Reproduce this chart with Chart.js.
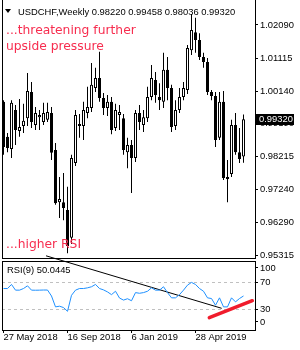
<!DOCTYPE html>
<html>
<head>
<meta charset="utf-8">
<script src="https://cdn.jsdelivr.net/npm/chart.js@4.4.1/dist/chart.umd.min.js"></script>
<style>
    html, body { margin: 0; padding: 0; background: #fff; }
    #wrap { position: relative; width: 300px; height: 350px; overflow: hidden; background: #fff; }
    canvas { position: absolute; left: 0; }
    #priceCanvas { top: 0; }
    #rsiCanvas { top: 240px; }
    .txt { position: absolute; white-space: nowrap; }
    #arrow { position: absolute; left: 5px; top: 9px; width: 0; height: 0;
             border-left: 3.5px solid transparent; border-right: 3.5px solid transparent; border-top: 4px solid #000; }
    #header { left: 18px; top: 6px; font: 9.4px/12px "Liberation Sans", Arial, sans-serif; color: #000; }
    .note { left: 6px; font: 12.3px/16.7px "DejaVu Sans", sans-serif; color: #f72d4f; }
    #note1 { top: 21.7px; }
    #note2 { top: 236.4px; }
    #rsiLabel { left: 7px; top: 264px; font: 9.4px/12px "Liberation Sans", Arial, sans-serif; color: #000; }
</style>
</head>
<body>
<div id="wrap">
    <canvas id="priceCanvas" width="300" height="260"></canvas>
    <canvas id="rsiCanvas" width="300" height="110"></canvas>
    <div id="arrow"></div>
    <div id="header" class="txt"></div>
    <div id="note1" class="txt note">...threatening further<br>upside pressure</div>
    <div id="note2" class="txt note">...higher RSI</div>
    <div id="rsiLabel" class="txt"></div>
</div>
<script>
// Weekly USDCHF candles, 27 May 2018 .. 21 Jul 2019 (one entry per week)
const opens = [0.9983, 0.9880, 0.9844, 0.9959, 0.9897, 0.9912, 0.9935, 1.0012, 0.9915, 0.9938,
    0.9924, 0.9930, 0.9950, 0.9841, 0.9688, 0.9688, 0.9665, 0.9583, 0.9803, 0.9912,
    0.9912, 0.9950, 0.9965, 1.0024, 1.0053, 0.9994, 0.9965, 0.9983, 0.9906, 0.9944,
    0.9935, 0.9835, 0.9856, 0.9818, 0.9950, 0.9915, 0.9935, 0.9997, 1.0047, 0.9997,
    0.9983, 1.0077, 1.0024, 0.9912, 0.9959, 0.9997, 1.0018, 1.0135, 1.0188, 1.0165,
    1.0115, 1.0100, 1.0012, 1.0000, 0.9877, 0.9983, 0.9756, 0.9771, 0.9915, 0.9835,
    0.98220];
const highs = [0.9988, 0.9891, 0.9988, 0.9974, 0.9991, 0.9977, 1.0068, 1.0041, 0.9968, 0.9959,
    0.9980, 0.9980, 0.9968, 0.9862, 0.9762, 0.9774, 0.9733, 0.9827, 0.9959, 0.9947,
    0.9983, 1.0027, 1.0097, 1.0083, 1.0130, 1.0009, 1.0003, 0.9997, 0.9977, 0.9974,
    0.9947, 0.9877, 0.9871, 0.9959, 0.9974, 0.9959, 1.0027, 1.0091, 1.0071, 1.0038,
    1.0127, 1.0115, 1.0033, 0.9988, 1.0024, 1.0041, 1.0150, 1.0241, 1.0230, 1.0185,
    1.0127, 1.0112, 1.0018, 1.0012, 1.0012, 1.0015, 0.9812, 0.9930, 0.9950, 0.9906,
    0.99458];
const lows = [0.9827, 0.9835, 0.9818, 0.9856, 0.9880, 0.9891, 0.9912, 0.9906, 0.9900, 0.9900,
    0.9915, 0.9924, 0.9812, 0.9680, 0.9641, 0.9635, 0.9538, 0.9565, 0.9794, 0.9877,
    0.9871, 0.9935, 0.9953, 1.0012, 0.9983, 0.9944, 0.9941, 0.9888, 0.9897, 0.9900,
    0.9827, 0.9788, 0.9715, 0.9806, 0.9900, 0.9894, 0.9924, 0.9988, 0.9980, 0.9959,
    0.9965, 0.9988, 0.9894, 0.9900, 0.9950, 0.9988, 1.0006, 1.0121, 1.0127, 1.0106,
    1.0083, 1.0003, 0.9988, 0.9850, 0.9871, 0.9753, 0.9688, 0.9762, 0.9827, 0.9803,
    0.98036];
const closes = [0.9850, 0.9847, 0.9980, 0.9900, 0.9909, 0.9927, 1.0015, 0.9924, 0.9950, 0.9944,
    0.9950, 0.9953, 0.9833, 0.9685, 0.9697, 0.9671, 0.9559, 0.9818, 0.9944, 0.9918,
    0.9959, 0.9968, 1.0033, 1.0053, 0.9994, 0.9965, 0.9983, 0.9900, 0.9959, 0.9953,
    0.9841, 0.9856, 0.9818, 0.9950, 0.9924, 0.9938, 0.9997, 1.0053, 1.0003, 0.9988,
    1.0077, 1.0024, 0.9909, 0.9959, 0.9997, 1.0024, 1.0141, 1.0194, 1.0165, 1.0115,
    1.0100, 1.0012, 1.0000, 0.9871, 0.9983, 0.9759, 0.9762, 0.9915, 0.9835, 0.9815,
    0.99320];

// RSI(9)
const rsi = [61, 61, 67, 58.6, 58.6, 61, 65, 58.6, 58.5, 58.6, 58.8, 58.8,
    50, 34, 35, 33, 27.5, 51, 58.6, 61, 61, 62, 63.6, 67,
    61, 59, 56, 52, 57, 47, 44, 46, 43, 55, 54, 55,
    57, 62, 58.6, 58.6, 63.6, 55, 47.3, 47.3, 52, 58.6, 66, 70,
    67, 61, 57, 47.3, 46.3, 36.4, 47.3, 34, 34, 47.3, 41.4, 46.3, 50.0445];

// Drawn trend lines in the RSI window (week index, RSI value)
const trendX = [10.63, 54.55];
const trendY = [109.1, 31.9];
const supportX = [51.45, 62.2];
const supportY = [18.1, 43.1];

// Axis labels
const priceTicks = [1.02090, 1.01115, 1.00140, 0.99190, 0.98215, 0.97240, 0.96290, 0.95315];
const dateTickAt = [0, 16, 32, 48];
const dateTickLabels = ['27 May 2018', '16 Sep 2018', '6 Jan 2019', '28 Apr 2019'];
const rsiTickAt = [91.2, 70, 30, 11.8];
const rsiTickLabels = ['100', '70', '30', '0'];

const axisFont = { family: '"Liberation Sans", Arial, sans-serif', size: 9.4, lineHeight: 1 };
const xMin = -0.375, xMax = 62.875;
const last = closes.length - 1;

// Header texts
document.getElementById('header').textContent = 'USDCHF,Weekly  ' +
    [opens[last], highs[last], lows[last], closes[last]].map(v => v.toFixed(5)).join(' ');
document.getElementById('rsiLabel').textContent = 'RSI(9) ' + rsi[last].toFixed(4);

// Frame lines on the left / top / bottom of a panel
function framePlugin(drawTop, drawBottom) {
    return {
        id: 'frame',
        afterDraw(chart) {
            const { ctx, chartArea } = chart;
            ctx.save();
            ctx.strokeStyle = '#000';
            ctx.lineWidth = 1;
            ctx.beginPath();
            ctx.moveTo(chartArea.left + 0.5, drawTop ? chartArea.top - 1 : 0);
            ctx.lineTo(chartArea.left + 0.5, chartArea.bottom + 1);
            if (drawTop) {
                ctx.moveTo(chartArea.left, chartArea.top - 0.5);
                ctx.lineTo(chartArea.right + 1, chartArea.top - 0.5);
            }
            if (drawBottom) {
                ctx.moveTo(chartArea.left, chartArea.bottom + 0.5);
                ctx.lineTo(chartArea.right + 1, chartArea.bottom + 0.5);
            }
            ctx.stroke();
            ctx.restore();
        }
    };
}

// Black box with the last close on the price axis
const lastPricePlugin = {
    id: 'lastPrice',
    afterDraw(chart) {
        const { ctx, chartArea, scales } = chart;
        const y = Math.round(scales.y.getPixelForValue(closes[last]));
        ctx.save();
        ctx.fillStyle = '#000';
        ctx.fillRect(chartArea.right + 1, y - 5, 38, 11);
        ctx.fillStyle = '#fff';
        ctx.font = '9.4px "Liberation Sans", Arial, sans-serif';
        ctx.textBaseline = 'middle';
        ctx.fillText(closes[last].toFixed(5), chartArea.right + 4, y + 0.5);
        ctx.restore();
    }
};

// Price panel: candle bodies and wicks as floating bars
const bodyData = closes.map((c, i) => ({ x: i, y: [opens[i], c] }));
const wickData = closes.map((c, i) => ({ x: i, y: [lows[i], highs[i]] }));
const bodyColors = closes.map((c, i) => (c >= opens[i] ? '#ffffff' : '#000000'));

new Chart(document.getElementById('priceCanvas'), {
    type: 'bar',
    data: {
        datasets: [{
            data: bodyData,
            backgroundColor: bodyColors,
            borderColor: '#000',
            borderWidth: 1,
            borderSkipped: false,
            barThickness: 3,
            inflateAmount: 0,
            grouped: false
        }, {
            data: wickData,
            backgroundColor: '#000',
            borderWidth: 0,
            barThickness: 1,
            inflateAmount: 0,
            grouped: false
        }]
    },
    options: {
        responsive: false,
        animation: false,
        devicePixelRatio: 1,
        layout: { padding: { left: 2, top: 0, right: 0, bottom: 2 } },
        plugins: { legend: { display: false }, tooltip: { enabled: false } },
        scales: {
            x: { type: 'linear', min: xMin, max: xMax, offset: false, display: false },
            y: {
                position: 'right',
                min: 0.95237,
                max: 1.02825,
                afterBuildTicks: scale => { scale.ticks = priceTicks.map(v => ({ value: v })); },
                afterFit: scale => { scale.width = 45; scale.paddingTop = 0; scale.paddingBottom = 0; },
                ticks: { callback: v => v.toFixed(5), font: axisFont, color: '#000', padding: 2, autoSkip: false },
                grid: { drawOnChartArea: false, tickLength: 3, tickColor: '#000' },
                border: { color: '#000' }
            }
        }
    },
    plugins: [framePlugin(false, true), lastPricePlugin]
});

// RSI panel
new Chart(document.getElementById('rsiCanvas'), {
    type: 'line',
    data: {
        datasets: [{
            data: rsi.map((v, i) => ({ x: i, y: v })),
            borderColor: '#1e90ff',
            borderWidth: 1,
            pointRadius: 0,
            tension: 0
        }, {
            data: trendX.map((x, k) => ({ x: x, y: trendY[k] })),
            borderColor: '#000',
            borderWidth: 1,
            pointRadius: 0,
            clip: false
        }, {
            data: supportX.map((x, k) => ({ x: x, y: supportY[k] })),
            borderColor: '#f01c2c',
            borderWidth: 3.5,
            borderCapStyle: 'round',
            pointRadius: 0,
            clip: false
        }]
    },
    options: {
        responsive: false,
        animation: false,
        devicePixelRatio: 1,
        layout: { padding: { left: 2, top: 22, right: 0, bottom: 0 } },
        plugins: { legend: { display: false }, tooltip: { enabled: false } },
        scales: {
            x: {
                type: 'linear',
                min: xMin,
                max: xMax,
                offset: false,
                afterBuildTicks: scale => { scale.ticks = dateTickAt.map(v => ({ value: v })); },
                afterFit: scale => { scale.height = 20; scale.paddingLeft = 0; scale.paddingRight = 0; },
                ticks: {
                    callback: (v, k) => dateTickLabels[k],
                    align: 'start',
                    autoSkip: false,
                    maxRotation: 0,
                    padding: 0,
                    font: axisFont,
                    color: '#000'
                },
                grid: { drawOnChartArea: false, tickLength: 3, tickColor: '#000' },
                border: { color: '#000' }
            },
            y: {
                position: 'right',
                min: 0,
                max: 100,
                afterBuildTicks: scale => { scale.ticks = rsiTickAt.map(v => ({ value: v })); },
                afterFit: scale => { scale.width = 45; scale.paddingTop = 0; scale.paddingBottom = 0; },
                ticks: { callback: (v, k) => rsiTickLabels[k], font: axisFont, color: '#000', padding: 2, autoSkip: false },
                grid: {
                    color: ctx => (ctx.tick && (ctx.tick.value === 70 || ctx.tick.value === 30) ? '#c0c0c0' : 'rgba(0,0,0,0)'),
                    tickLength: 3,
                    tickColor: '#000'
                },
                border: { color: '#000', dash: [3, 3] }
            }
        }
    },
    plugins: [framePlugin(true, false)]
});
</script>
</body>
</html>
